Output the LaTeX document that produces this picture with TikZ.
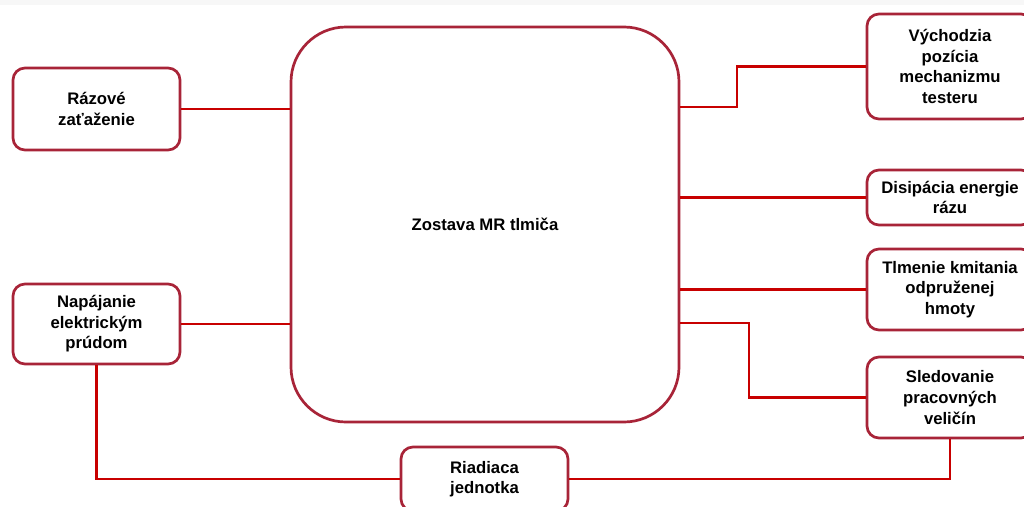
\documentclass[tikz,border=0pt]{standalone}
\usepackage{fontspec}
\setmainfont{Liberation Sans}
\definecolor{boxred}{RGB}{168,36,56}
\definecolor{linered}{RGB}{200,0,0}
\begin{document}
\begin{tikzpicture}[x=1pt,y=-1pt,
  box/.style={draw=boxred, line width=2.7pt, fill=white, rounded corners=12pt,
    align=center, inner sep=0pt, font=\bfseries\fontsize{16.7}{20.6}\selectfont},
  bigbox/.style={draw=boxred, line width=2.7pt, fill=white, rounded corners=55pt,
    align=center, inner sep=0pt, font=\bfseries\fontsize{16.7}{20.6}\selectfont},
  conn/.style={draw=linered, line width=2.7pt}]
\useasboundingbox (0,0) rectangle (1024,506);
\clip (0,0) rectangle (1024,506);
\fill[white] (0,0) rectangle (1024,506);
\fill[black!3] (0,0) rectangle (1024,5);

\node[bigbox, minimum width=388pt, minimum height=395pt] (main) at (485,224.5) {Zostava MR tlmiča};

\node[box, minimum width=167pt, minimum height=82pt] (raz) at (96.5,109) {Rázové\\zaťaženie};
\node[box, minimum width=167pt, minimum height=80pt] (nap) at (96.5,324) {Napájanie\\elektrickým\\prúdom};
\node[box, minimum width=167pt, minimum height=64pt] (riad) at (484.5,479) {Riadiaca\\jednotka};

\node[box, minimum width=166pt, minimum height=105pt] (vych) at (950,66.5) {Východzia\\pozícia\\mechanizmu\\testeru};
\node[box, minimum width=166pt, minimum height=55pt] (disip) at (950,197.5) {Disipácia energie\\rázu};
\node[box, minimum width=166pt, minimum height=81pt] (tlm) at (950,289.5) {Tlmenie kmitania\\odpruženej\\hmoty};
\node[box, minimum width=166pt, minimum height=81pt] (sled) at (950,397.5) {Sledovanie\\pracovných\\veličín};

\draw[conn] (raz.east) -- (raz.east -| main.west);
\draw[conn] (nap.east) -- (nap.east -| main.west);
\draw[conn] (main.east |- 0,107) -- (737,107) |- (vych.west);
\draw[conn] (main.east |- disip.west) -- (disip.west);
\draw[conn] (main.east |- tlm.west) -- (tlm.west);
\draw[conn] (main.east |- 0,323) -- (749,323) |- (sled.west);
\draw[conn] (nap.south) |- (riad.west);
\draw[conn] (riad.east) -| (sled.south);
\end{tikzpicture}
\end{document}
